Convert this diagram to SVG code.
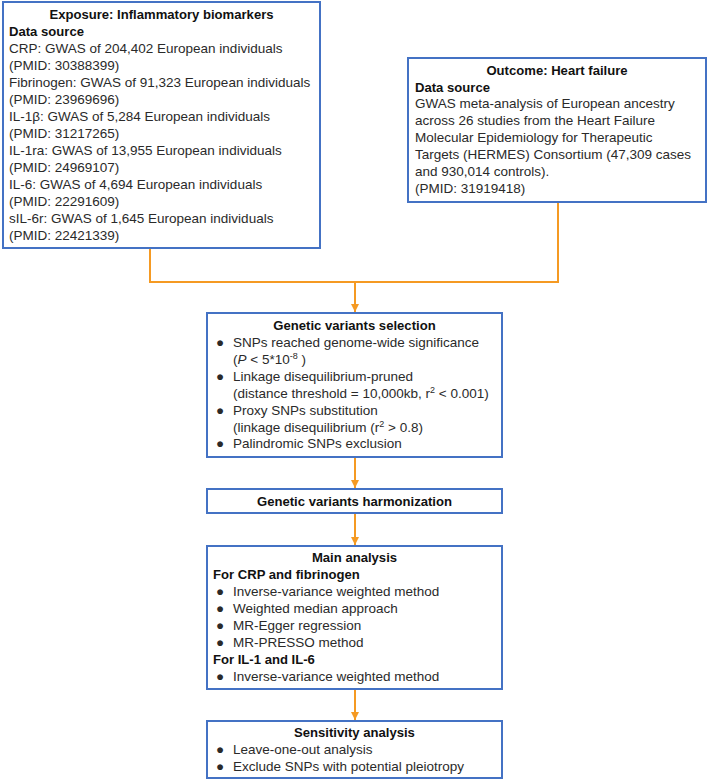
<svg xmlns="http://www.w3.org/2000/svg" width="708" height="782" viewBox="0 0 708 782">
<defs>
<style>
.box{fill:#fff;stroke:#4472C4;stroke-width:2}
.t{font-family:"Liberation Sans",Arial,sans-serif;font-size:13.5px;fill:#2a2a2a}
.b{font-family:"Liberation Sans",Arial,sans-serif;font-size:13.1px;font-weight:bold;fill:#111}
.c{text-anchor:middle}
.con{fill:none;stroke:#F59A23;stroke-width:2}
.sup{font-size:9px}
</style>
<marker id="ah" viewBox="0 0 10 10" refX="10" refY="5" markerWidth="4" markerHeight="5" markerUnits="strokeWidth" orient="auto">
<path d="M0,0 L10,5 L0,10 z" fill="#F59A23"/>
</marker>
</defs>
<rect width="708" height="782" fill="#fff"/>

<g id="connectors">
<polyline class="con" points="150,248 150,282 558,282 558,202"/>
<line class="con" x1="355" y1="282" x2="355" y2="312" marker-end="url(#ah)"/>
<line class="con" x1="355" y1="457" x2="355" y2="488" marker-end="url(#ah)"/>
<line class="con" x1="355" y1="513" x2="355" y2="545" marker-end="url(#ah)"/>
<line class="con" x1="355" y1="689" x2="355" y2="720" marker-end="url(#ah)"/>
</g>

<g id="exposure">
<rect class="box" x="3" y="2" width="317" height="246"/>
<text class="b c" x="161.5" y="19">Exposure: Inflammatory biomarkers</text>
<text class="b" x="9" y="36">Data source</text>
<text class="t" x="9" y="53">CRP: GWAS of 204,402 European individuals</text>
<text class="t" x="9" y="70">(PMID: 30388399)</text>
<text class="t" x="9" y="87">Fibrinogen: GWAS of 91,323 European individuals</text>
<text class="t" x="9" y="104">(PMID: 23969696)</text>
<text class="t" x="9" y="121">IL-1β: GWAS of 5,284 European individuals</text>
<text class="t" x="9" y="138">(PMID: 31217265)</text>
<text class="t" x="9" y="155">IL-1ra: GWAS of 13,955 European individuals</text>
<text class="t" x="9" y="172">(PMID: 24969107)</text>
<text class="t" x="9" y="189">IL-6: GWAS of 4,694 European individuals</text>
<text class="t" x="9" y="206">(PMID: 22291609)</text>
<text class="t" x="9" y="223">sIL-6r: GWAS of 1,645 European individuals</text>
<text class="t" x="9" y="240">(PMID: 22421339)</text>
</g>

<g id="outcome">
<rect class="box" x="408" y="58" width="298" height="144"/>
<text class="b c" x="557" y="75">Outcome: Heart failure</text>
<text class="b" x="415" y="92">Data source</text>
<text class="t" x="415" y="108">GWAS meta-analysis of European ancestry</text>
<text class="t" x="415" y="125">across 26 studies from the Heart Failure</text>
<text class="t" x="415" y="142">Molecular Epidemiology for Therapeutic</text>
<text class="t" x="415" y="159">Targets (HERMES) Consortium (47,309 cases</text>
<text class="t" x="415" y="176">and 930,014 controls).</text>
<text class="t" x="415" y="193">(PMID: 31919418)</text>
</g>

<g id="selection">
<rect class="box" x="207" y="313" width="295" height="144"/>
<text class="b c" x="354.5" y="330">Genetic variants selection</text>
<text class="t" x="216" y="347">●</text>
<text class="t" x="233" y="347">SNPs reached genome-wide significance</text>
<text class="t" x="233" y="364">(<tspan font-style="italic">P</tspan> &lt; 5*10<tspan class="sup" dy="-5">-8</tspan><tspan dy="5"> )</tspan></text>
<text class="t" x="216" y="381">●</text>
<text class="t" x="233" y="381">Linkage disequilibrium-pruned</text>
<text class="t" x="233" y="398">(distance threshold = 10,000kb, r<tspan class="sup" dy="-5">2</tspan><tspan dy="5"> &lt; 0.001)</tspan></text>
<text class="t" x="216" y="415">●</text>
<text class="t" x="233" y="415">Proxy SNPs substitution</text>
<text class="t" x="233" y="432">(linkage disequilibrium (r<tspan class="sup" dy="-5">2</tspan><tspan dy="5"> &gt; 0.8)</tspan></text>
<text class="t" x="216" y="448">●</text>
<text class="t" x="233" y="448">Palindromic SNPs exclusion</text>
</g>

<g id="harmonization">
<rect class="box" x="207" y="489" width="295" height="24"/>
<text class="b c" x="354.5" y="506">Genetic variants harmonization</text>
</g>

<g id="main">
<rect class="box" x="207" y="546" width="295" height="143"/>
<text class="b c" x="354.5" y="562">Main analysis</text>
<text class="b" x="213" y="579">For CRP and fibrinogen</text>
<text class="t" x="216" y="596">●</text>
<text class="t" x="233" y="596">Inverse-variance weighted method</text>
<text class="t" x="216" y="613">●</text>
<text class="t" x="233" y="613">Weighted median approach</text>
<text class="t" x="216" y="630">●</text>
<text class="t" x="233" y="630">MR-Egger regression</text>
<text class="t" x="216" y="647">●</text>
<text class="t" x="233" y="647">MR-PRESSO method</text>
<text class="b" x="213" y="664">For IL-1 and IL-6</text>
<text class="t" x="216" y="681">●</text>
<text class="t" x="233" y="681">Inverse-variance weighted method</text>
</g>

<g id="sensitivity">
<rect class="box" x="207" y="721" width="295" height="57"/>
<text class="b c" x="354.5" y="737">Sensitivity analysis</text>
<text class="t" x="216" y="754">●</text>
<text class="t" x="233" y="754">Leave-one-out analysis</text>
<text class="t" x="216" y="771">●</text>
<text class="t" x="233" y="771">Exclude SNPs with potential pleiotropy</text>
</g>
</svg>
